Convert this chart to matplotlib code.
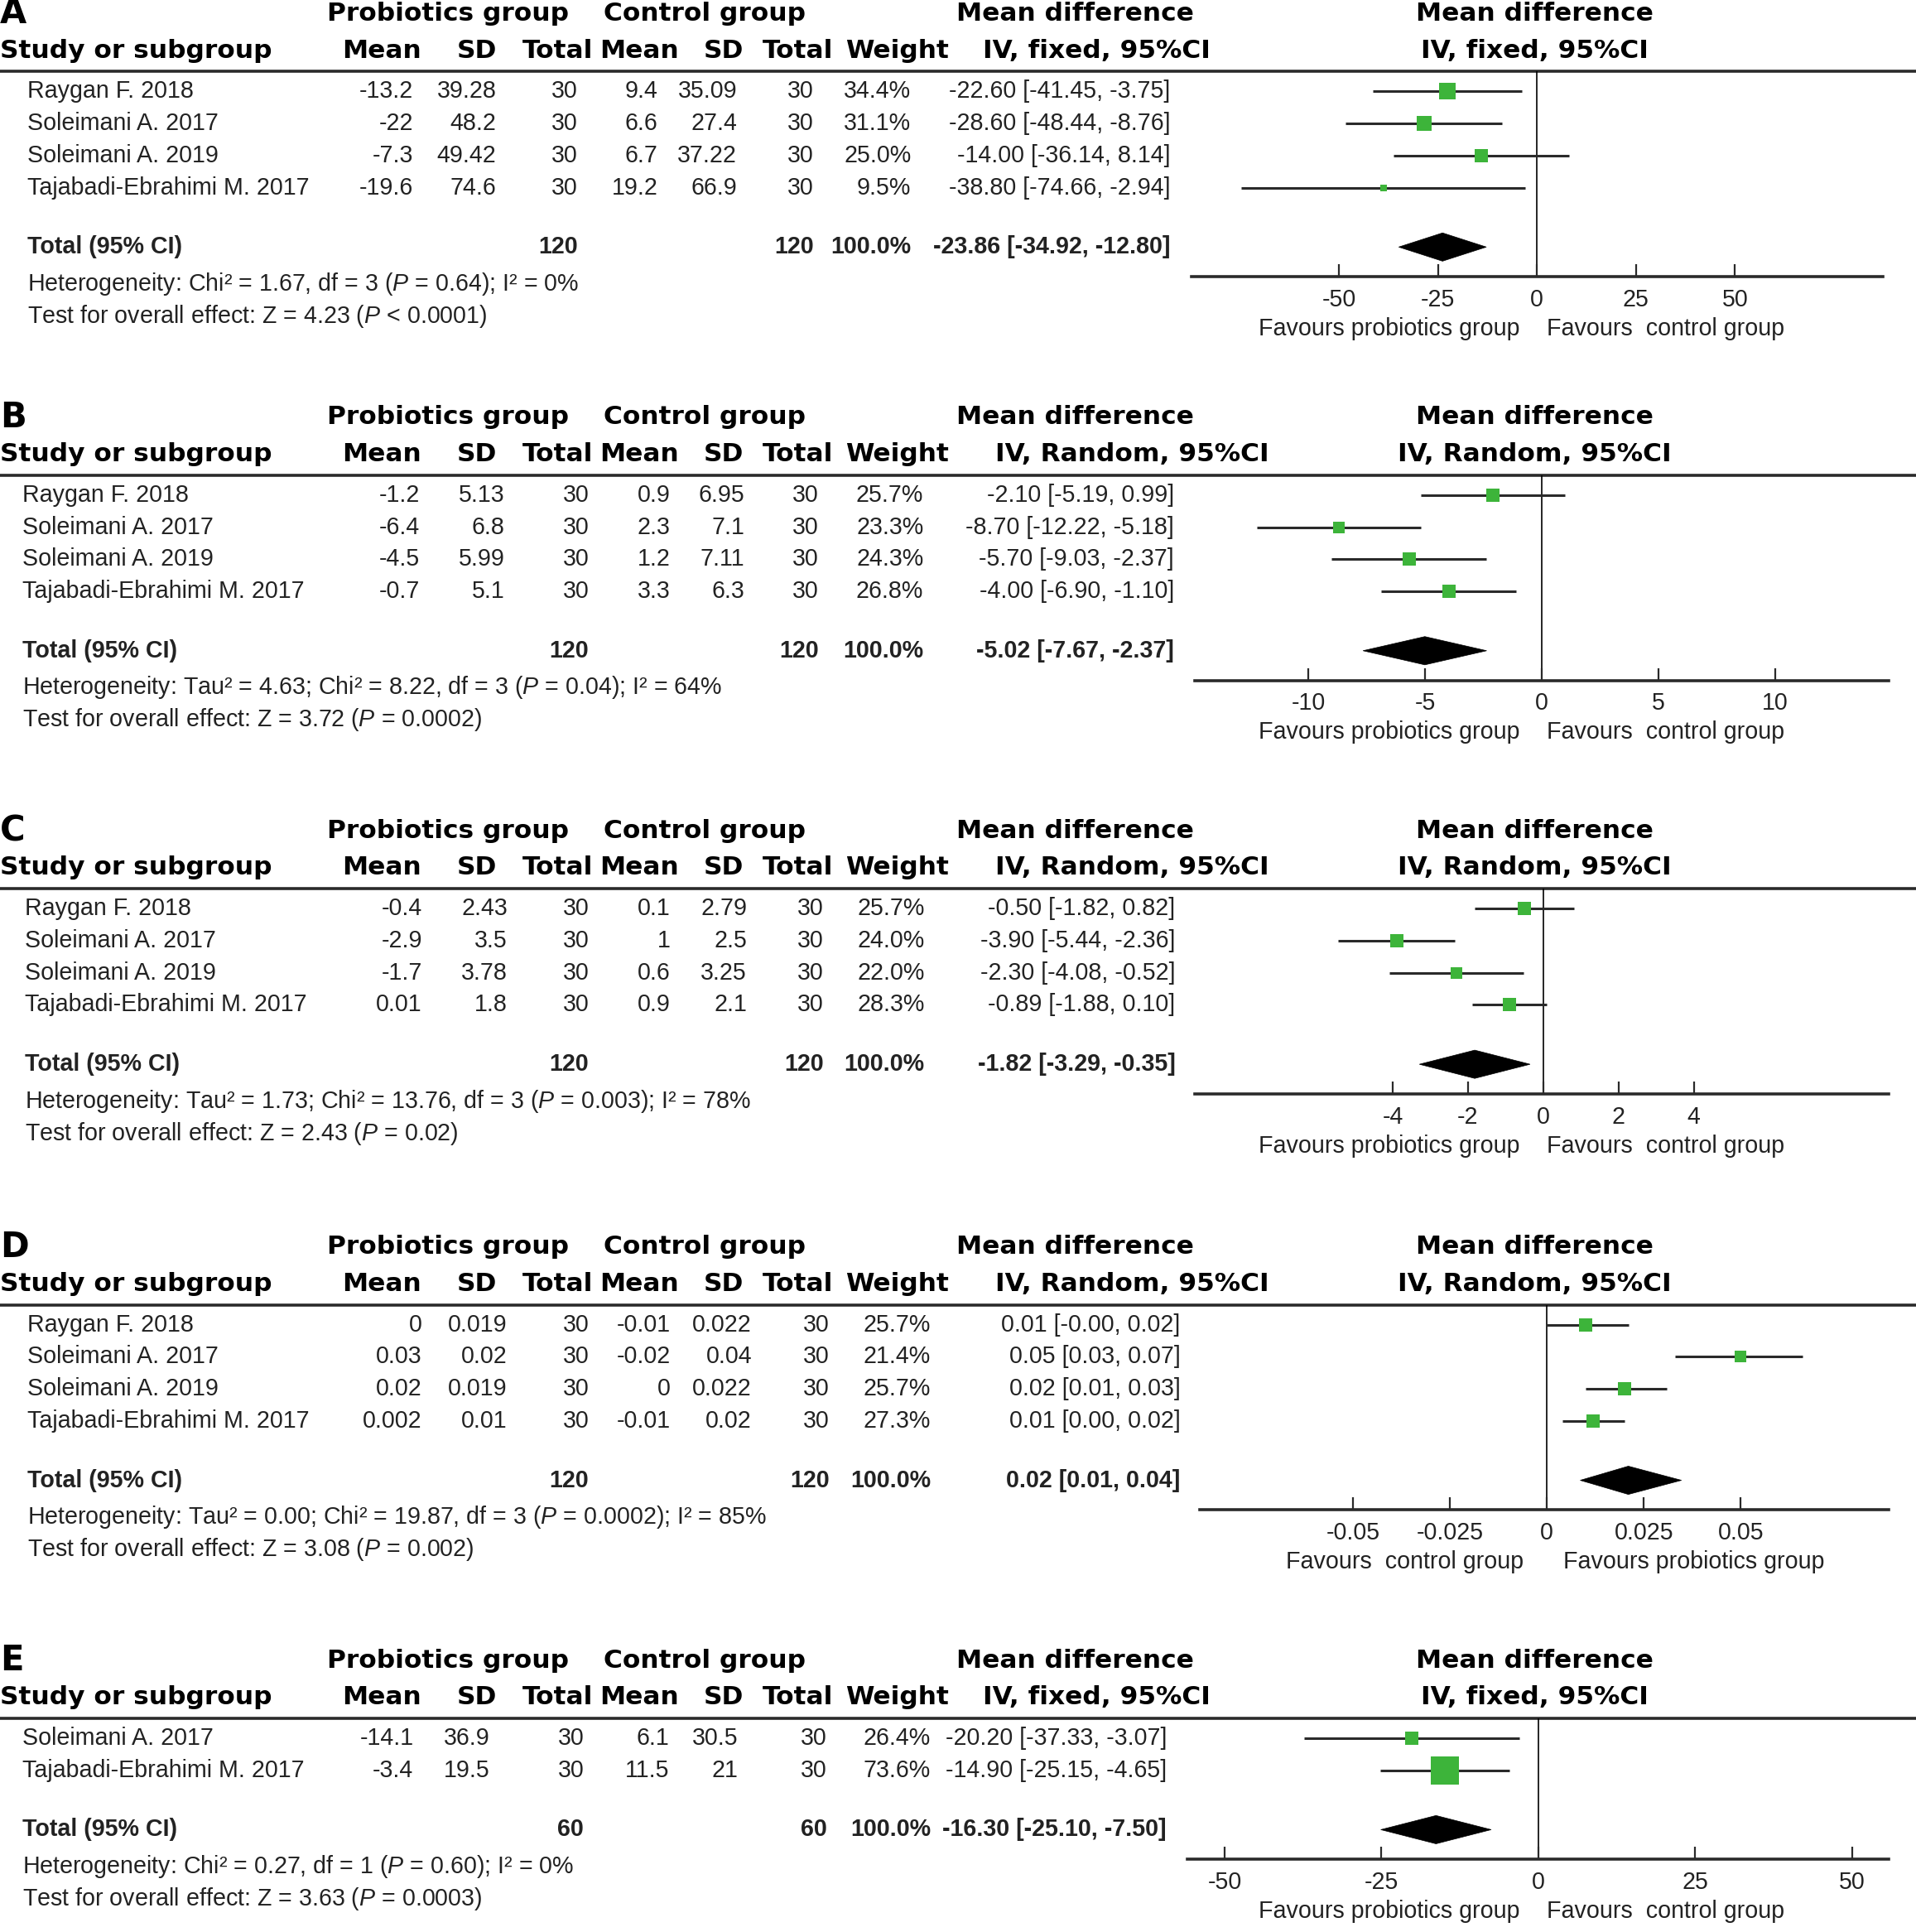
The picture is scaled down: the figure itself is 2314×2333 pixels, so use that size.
import matplotlib
matplotlib.use("Agg")
import matplotlib.pyplot as plt
from matplotlib.patches import Polygon

plt.rcParams["font.family"] = ["Liberation Sans", "DejaVu Sans"]
plt.rcParams["mathtext.fontset"] = "custom"
plt.rcParams["mathtext.rm"] = "Liberation Sans"
plt.rcParams["mathtext.it"] = "Liberation Sans:italic"
plt.rcParams["mathtext.bf"] = "Liberation Sans:bold"

# ---------------- data ----------------
studies4 = ["Raygan F. 2018", "Soleimani A. 2017", "Soleimani A. 2019", "Tajabadi-Ebrahimi M. 2017"]
studies2 = ["Soleimani A. 2017", "Tajabadi-Ebrahimi M. 2017"]

# panel A
a_p_mean = ["-13.2", "-22", "-7.3", "-19.6"]
a_p_sd = ["39.28", "48.2", "49.42", "74.6"]
a_c_mean = ["9.4", "6.6", "6.7", "19.2"]
a_c_sd = ["35.09", "27.4", "37.22", "66.9"]
a_weight = [34.4, 31.1, 25.0, 9.5]
a_md = [-22.60, -28.60, -14.00, -38.80]
a_lo = [-41.45, -48.44, -36.14, -74.66]
a_hi = [-3.75, -8.76, 8.14, -2.94]
a_total = [-23.86, -34.92, -12.80]
a_het = "Heterogeneity: Chi² = 1.67, df = 3 ($\\mathit{P}$ = 0.64); I² = 0%"
a_test = "Test for overall effect: Z = 4.23 ($\\mathit{P}$ < 0.0001)"

# panel B
b_p_mean = ["-1.2", "-6.4", "-4.5", "-0.7"]
b_p_sd = ["5.13", "6.8", "5.99", "5.1"]
b_c_mean = ["0.9", "2.3", "1.2", "3.3"]
b_c_sd = ["6.95", "7.1", "7.11", "6.3"]
b_weight = [25.7, 23.3, 24.3, 26.8]
b_md = [-2.10, -8.70, -5.70, -4.00]
b_lo = [-5.19, -12.22, -9.03, -6.90]
b_hi = [0.99, -5.18, -2.37, -1.10]
b_total = [-5.02, -7.67, -2.37]
b_het = "Heterogeneity: Tau² = 4.63; Chi² = 8.22, df = 3 ($\\mathit{P}$ = 0.04); I² = 64%"
b_test = "Test for overall effect: Z = 3.72 ($\\mathit{P}$ = 0.0002)"

# panel C
c_p_mean = ["-0.4", "-2.9", "-1.7", "0.01"]
c_p_sd = ["2.43", "3.5", "3.78", "1.8"]
c_c_mean = ["0.1", "1", "0.6", "0.9"]
c_c_sd = ["2.79", "2.5", "3.25", "2.1"]
c_weight = [25.7, 24.0, 22.0, 28.3]
c_md = [-0.50, -3.90, -2.30, -0.89]
c_lo = [-1.82, -5.44, -4.08, -1.88]
c_hi = [0.82, -2.36, -0.52, 0.10]
c_total = [-1.82, -3.29, -0.35]
c_het = "Heterogeneity: Tau² = 1.73; Chi² = 13.76, df = 3 ($\\mathit{P}$ = 0.003); I² = 78%"
c_test = "Test for overall effect: Z = 2.43 ($\\mathit{P}$ = 0.02)"

# panel D (plotted positions)
d_p_mean = ["0", "0.03", "0.02", "0.002"]
d_p_sd = ["0.019", "0.02", "0.019", "0.01"]
d_c_mean = ["-0.01", "-0.02", "0", "-0.01"]
d_c_sd = ["0.022", "0.04", "0.022", "0.02"]
d_weight = [25.7, 21.4, 25.7, 27.3]
d_ci_text = ["0.01 [-0.00, 0.02]", "0.05 [0.03, 0.07]", "0.02 [0.01, 0.03]", "0.01 [0.00, 0.02]"]
d_total_text = "0.02 [0.01, 0.04]"
d_md = [0.010, 0.050, 0.020, 0.012]
d_lo = [0.000, 0.033, 0.010, 0.004]
d_hi = [0.021, 0.066, 0.031, 0.020]
d_total = [0.021, 0.0086, 0.0347]
d_het = "Heterogeneity: Tau² = 0.00; Chi² = 19.87, df = 3 ($\\mathit{P}$ = 0.0002); I² = 85%"
d_test = "Test for overall effect: Z = 3.08 ($\\mathit{P}$ = 0.002)"

# panel E
e_p_mean = ["-14.1", "-3.4"]
e_p_sd = ["36.9", "19.5"]
e_c_mean = ["6.1", "11.5"]
e_c_sd = ["30.5", "21"]
e_weight = [26.4, 73.6]
e_md = [-20.20, -14.90]
e_lo = [-37.33, -25.15]
e_hi = [-3.07, -4.65]
e_total = [-16.30, -25.10, -7.50]
e_het = "Heterogeneity: Chi² = 0.27, df = 1 ($\\mathit{P}$ = 0.60); I² = 0%"
e_test = "Test for overall effect: Z = 3.63 ($\\mathit{P}$ = 0.0003)"

fav_pro = "Favours probiotics group"
fav_con = "Favours  control group"

def ci_str(m, l, h):
    return f"{m:.2f} [{l:.2f}, {h:.2f}]"

panels = [
    dict(letter="A", top=11, studies=studies4, pm=a_p_mean, psd=a_p_sd, cm=a_c_mean, csd=a_c_sd,
         w=a_weight, md=a_md, lo=a_lo, hi=a_hi, tot=a_total, n_tot="120", model="IV, fixed, 95%CI",
         ci=[ci_str(*v) for v in zip(a_md, a_lo, a_hi)], ci_tot=ci_str(*a_total),
         het=a_het, test=a_test, cols=[335, 402, 468, 533, 597, 659, 738, 948], x0=22,
         ax_lr=(965, 1525), xlim=(-87.3, 87.3), ticks=[-50, -25, 0, 25, 50],
         tlabels=["-50", "-25", "0", "25", "50"], fav=(fav_pro, fav_con), fav_x=(1125, 1349)),
    dict(letter="B", top=338, studies=studies4, pm=b_p_mean, psd=b_p_sd, cm=b_c_mean, csd=b_c_sd,
         w=b_weight, md=b_md, lo=b_lo, hi=b_hi, tot=b_total, n_tot="120", model="IV, Random, 95%CI",
         ci=[ci_str(*v) for v in zip(b_md, b_lo, b_hi)], ci_tot=ci_str(*b_total),
         het=b_het, test=b_test, cols=[340, 409, 477, 543, 603, 663, 748, 951], x0=18,
         ax_lr=(968, 1530), xlim=(-14.87, 14.87), ticks=[-10, -5, 0, 5, 10],
         tlabels=["-10", "-5", "0", "5", "10"], fav=(fav_pro, fav_con), fav_x=(1125, 1349)),
    dict(letter="C", top=673, studies=studies4, pm=c_p_mean, psd=c_p_sd, cm=c_c_mean, csd=c_c_sd,
         w=c_weight, md=c_md, lo=c_lo, hi=c_hi, tot=c_total, n_tot="120", model="IV, Random, 95%CI",
         ci=[ci_str(*v) for v in zip(c_md, c_lo, c_hi)], ci_tot=ci_str(*c_total),
         het=c_het, test=c_test, cols=[342, 411, 477, 543, 605, 667, 749, 952], x0=20,
         ax_lr=(968, 1530), xlim=(-9.25, 9.18), ticks=[-4, -2, 0, 2, 4],
         tlabels=["-4", "-2", "0", "2", "4"], fav=(fav_pro, fav_con), fav_x=(1125, 1349)),
    dict(letter="D", top=1010, studies=studies4, pm=d_p_mean, psd=d_p_sd, cm=d_c_mean, csd=d_c_sd,
         w=d_weight, md=d_md, lo=d_lo, hi=d_hi, tot=d_total, n_tot="120", model="IV, Random, 95%CI",
         ci=d_ci_text, ci_tot=d_total_text,
         het=d_het, test=d_test, cols=[342, 411, 477, 543, 609, 672, 754, 956], x0=22,
         ax_lr=(972, 1530), xlim=(-0.0895, 0.0882), ticks=[-0.05, -0.025, 0, 0.025, 0.05],
         tlabels=["-0.05", "-0.025", "0", "0.025", "0.05"], fav=(fav_con, fav_pro), fav_x=(1138, 1372)),
    dict(letter="E", top=1345, studies=studies2, pm=e_p_mean, psd=e_p_sd, cm=e_c_mean, csd=e_c_sd,
         w=e_weight, md=e_md, lo=e_lo, hi=e_hi, tot=e_total, n_tot="60", model="IV, fixed, 95%CI",
         ci=[ci_str(*v) for v in zip(e_md, e_lo, e_hi)], ci_tot=ci_str(*e_total),
         het=e_het, test=e_test, cols=[335, 397, 473, 542, 598, 670, 754, 945], x0=18,
         ax_lr=(962, 1530), xlim=(-55.9, 55.9), ticks=[-50, -25, 0, 25, 50],
         tlabels=["-50", "-25", "0", "25", "50"], fav=(fav_pro, fav_con), fav_x=(1125, 1349)),
]

# ---------------- figure ----------------
W, H = 1552, 1565          # layout units (reference at reduced scale)
fig = plt.figure(figsize=(23.14, 23.33), dpi=100)
ax = fig.add_axes([0, 0, 1, 1])
ax.set_xlim(0, W)
ax.set_ylim(H, 0)
ax.axis("off")

BODY = 20.6
HEAD = 22.5
txt = "#222222"
green = "#3db43a"
head_font = dict(family="DejaVu Sans", weight="bold", fontsize=HEAD, color="black", va="center")
ROW = 26

for p in panels:
    h = p["top"]
    n = len(p["studies"])
    line_y = h + 47
    row0 = h + 63
    tot_y = row0 + (n + 0.85) * ROW
    axis_y = tot_y + 24

    # headers
    ax.text(0, h, p["letter"], family="DejaVu Sans", weight="bold", fontsize=30, va="center", ha="left")
    ax.text(363, h, "Probiotics group", ha="center", **head_font)
    ax.text(571, h, "Control group", ha="center", **head_font)
    ax.text(871, h, "Mean difference", ha="center", **head_font)
    ax.text(1243, h, "Mean difference", ha="center", **head_font)
    h2 = h + 30
    ax.text(0, h2, "Study or subgroup", ha="left", **head_font)
    for x, s in zip([309, 386, 452, 518, 586, 646, 727], ["Mean", "SD", "Total", "Mean", "SD", "Total", "Weight"]):
        ax.text(x, h2, s, ha="center", **head_font)
    mcx = 888 if "fixed" in p["model"] else 917
    ax.text(mcx, h2, p["model"], ha="center", **head_font)
    ax.text(1243, h2, p["model"], ha="center", **head_font)
    ax.axhline(line_y, color="#2a2a2a", lw=2.6)

    # study rows
    cols = p["cols"]
    for i in range(n):
        y = row0 + i * ROW
        ax.text(p["x0"], y, p["studies"][i], ha="left", va="center", fontsize=BODY, color=txt)
        vals = [p["pm"][i], p["psd"][i], "30", p["cm"][i], p["csd"][i], "30",
                f"{p['w'][i]:.1f}%", p["ci"][i]]
        for x, s in zip(cols, vals):
            ax.text(x, y, s, ha="right", va="center", fontsize=BODY, color=txt)

    # total row
    bold = dict(ha="right", va="center", fontsize=BODY, color=txt, weight="bold")
    ax.text(p["x0"], tot_y, "Total (95% CI)", ha="left", va="center", fontsize=BODY, color=txt, weight="bold")
    ax.text(cols[2], tot_y, p["n_tot"], **bold)
    ax.text(cols[5], tot_y, p["n_tot"], **bold)
    ax.text(cols[6], tot_y, "100.0%", **bold)
    ax.text(cols[7], tot_y, p["ci_tot"], **bold)
    ax.text(p["x0"], tot_y + 30, p["het"], ha="left", va="center", fontsize=BODY, color=txt)
    ax.text(p["x0"], tot_y + 56, p["test"], ha="left", va="center", fontsize=BODY, color=txt)

    # forest plot axes
    L, R = p["ax_lr"]
    fa = fig.add_axes([L / W, 1 - axis_y / H, (R - L) / W, (axis_y - line_y) / H])
    fa.set_xlim(*p["xlim"])
    fa.set_ylim(n + 0.85 + 24 / ROW, -16 / ROW)
    fa.patch.set_alpha(0)
    for s in ["top", "left", "right"]:
        fa.spines[s].set_visible(False)
    fa.spines["bottom"].set_linewidth(2.6)
    fa.spines["bottom"].set_color("#2a2a2a")
    fa.set_yticks([])
    fa.set_xticks(p["ticks"])
    fa.set_xticklabels(p["tlabels"], fontsize=BODY, color=txt)
    fa.tick_params(axis="x", direction="in", length=11, width=1.6, pad=10, colors="#2a2a2a",
                   labelcolor=txt)
    fa.axvline(0, color="black", lw=1.2, zorder=1)
    for i in range(n):
        fa.plot([p["lo"][i], p["hi"][i]], [i, i], color="#2a2a2a", lw=2.2, zorder=2, solid_capstyle="butt")
        fa.plot(p["md"][i], i, marker="s", color=green, markersize=14 * (p["w"][i] / 34.4) ** 0.72,
                markeredgewidth=0, zorder=3)
    m, lo, hi = p["tot"]
    yt = n + 0.85
    fa.add_patch(Polygon([(lo, yt), (m, yt - 0.44), (hi, yt), (m, yt + 0.44)],
                         closed=True, facecolor="black", edgecolor="black", lw=0.5, zorder=3))

    fav_y = axis_y + 42
    ax.text(p["fav_x"][0], fav_y, p["fav"][0], ha="center", va="center", fontsize=BODY, color=txt)
    ax.text(p["fav_x"][1], fav_y, p["fav"][1], ha="center", va="center", fontsize=BODY, color=txt)

fig.savefig("out.png", dpi=100, facecolor="white")
